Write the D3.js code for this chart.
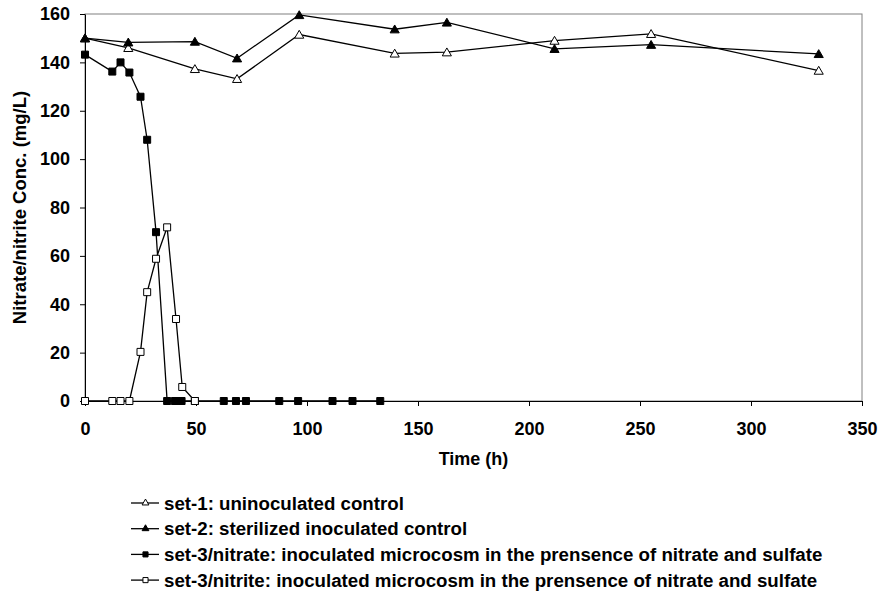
<!DOCTYPE html>
<html>
<head>
<meta charset="utf-8">
<script src="https://cdn.jsdelivr.net/npm/d3@7"></script>
<style>
  body { margin: 0; background: #fff; }
  text { font-family: "Liberation Sans", Arial, sans-serif; font-weight: bold; }
</style>
</head>
<body>
<div id="chart"></div>
<script>
// Data
var set1Time = [0, 19.5, 49.5, 68.5, 96.5, 139.5, 163, 211.5, 255, 330.5];
var set1Conc = [150, 146, 137.3, 133.2, 151.5, 143.7, 144.2, 149, 151.8, 136.6];

var set2Time = [0, 19.5, 49.5, 68.5, 96.5, 139.5, 163, 211.5, 255, 330.5];
var set2Conc = [150, 148.3, 148.6, 141.7, 159.6, 153.7, 156.5, 145.6, 147.3, 143.5];

var nitrateTime = [0, 12.3, 16, 20, 25, 28, 32, 37, 40.5, 43.5, 49.5, 62.5, 68, 72.5, 87.5, 96, 111.5, 120.5, 133];
var nitrateConc = [143.2, 136.2, 140, 135.8, 125.8, 108, 69.8, 0, 0, 0, 0, 0, 0, 0, 0, 0, 0, 0, 0];

var nitriteTime = [0, 12.3, 16, 20, 25, 28, 32, 37, 41, 43.8, 49.5];
var nitriteConc = [0, 0, 0, 0, 20.3, 45, 58.8, 71.8, 33.9, 5.8, 0];

var xTicks = [0, 50, 100, 150, 200, 250, 300, 350];
var yTicks = [0, 20, 40, 60, 80, 100, 120, 140, 160];

var legendLabels = [
    "set-1: uninoculated control",
    "set-2: sterilized inoculated control",
    "set-3/nitrate: inoculated microcosm in the prensence of nitrate and sulfate",
    "set-3/nitrite: inoculated microcosm in the prensence of nitrate and sulfate"
];

function zip(t, c) {
    return t.map(function (d, i) { return {t: d, c: c[i]}; });
}

var series = [
    {name: legendLabels[0], data: zip(set1Time, set1Conc), shape: "tri", fill: "#fff"},
    {name: legendLabels[1], data: zip(set2Time, set2Conc), shape: "tri", fill: "#000"},
    {name: legendLabels[2], data: zip(nitrateTime, nitrateConc), shape: "sq", fill: "#000"},
    {name: legendLabels[3], data: zip(nitriteTime, nitriteConc), shape: "sq", fill: "#fff"}
];

var W = 880, H = 592;
var margin = {top: 14, right: 18, bottom: 191, left: 85},
    width = W - margin.left - margin.right,
    height = H - margin.top - margin.bottom;

var svg = d3.select("#chart")
    .append("svg")
    .attr("width", W)
    .attr("height", H);

var g = svg.append("g")
    .attr("transform", `translate(${margin.left},${margin.top})`);

var x = d3.scaleLinear().domain([0, 350]).range([0, width]);
var y = d3.scaleLinear().domain([0, 160]).range([height, 0]);

// Plot area border (grey)
g.append("rect")
    .attr("x", 0).attr("y", 0)
    .attr("width", width).attr("height", height)
    .attr("fill", "none")
    .attr("stroke", "#808080")
    .attr("stroke-width", 1);

// X axis
var xAxis = g.append("g")
    .attr("transform", `translate(0,${height})`)
    .call(d3.axisBottom(x).tickValues(xTicks).tickSize(5).tickSizeOuter(0).tickPadding(16));
xAxis.selectAll("text").attr("font-size", 18).attr("fill", "#000");

// Y axis
var yAxis = g.append("g")
    .call(d3.axisLeft(y).tickValues(yTicks).tickSize(5).tickSizeOuter(0).tickPadding(10));
yAxis.selectAll("text").attr("font-size", 18).attr("fill", "#000");

g.selectAll(".domain, .tick line").attr("stroke", "#000");

// Axis titles
g.append("text")
    .attr("x", width / 2)
    .attr("y", height + 64)
    .attr("text-anchor", "middle")
    .attr("font-size", 18)
    .text("Time (h)");

svg.append("text")
    .attr("transform", `translate(26,${margin.top + height / 2}) rotate(-90)`)
    .attr("text-anchor", "middle")
    .attr("font-size", 18.5)
    .text("Nitrate/nitrite Conc. (mg/L)");

var line = d3.line()
    .x(d => x(d.t))
    .y(d => y(d.c));

var triangle = d3.symbol().type(d3.symbolTriangle).size(36);
var square = d3.symbol().type(d3.symbolSquare).size(49);

function drawMarker(sel, s) {
    sel.append("path")
        .attr("d", s.shape === "tri" ? triangle() : square())
        .attr("fill", s.fill)
        .attr("stroke", "#000")
        .attr("stroke-width", 1);
}

series.forEach(function (s) {
    g.append("path")
        .datum(s.data)
        .attr("fill", "none")
        .attr("stroke", "#000")
        .attr("stroke-width", 1.3)
        .attr("d", line);
});

series.forEach(function (s) {
    g.selectAll(null)
        .data(s.data)
        .join("g")
        .attr("transform", d => `translate(${x(d.t)},${y(d.c) + (s.shape === "tri" ? 1 : 0)})`)
        .each(function () { drawMarker(d3.select(this), s); });
});

// Legend
var legend = svg.append("g")
    .attr("transform", "translate(131,503)")
    .selectAll("g")
    .data(series)
    .join("g")
    .attr("transform", (d, i) => `translate(0,${i * 25.7})`);

legend.append("line")
    .attr("x1", 0).attr("x2", 28)
    .attr("y1", 0).attr("y2", 0)
    .attr("stroke", "#000")
    .attr("stroke-width", 1.3);

legend.append("g")
    .attr("transform", "translate(14.5,0)")
    .each(function (s) {
        d3.select(this).append("path")
            .attr("d", s.shape === "tri" ? d3.symbol().type(d3.symbolTriangle).size(20)() : d3.symbol().type(d3.symbolSquare).size(26)())
            .attr("fill", s.fill)
            .attr("stroke", "#000")
            .attr("stroke-width", 1);
    });

legend.append("text")
    .attr("x", 33)
    .attr("y", 0)
    .attr("dy", "0.35em")
    .attr("font-size", 18.7)
    .text(d => d.name);
</script>
</body>
</html>
